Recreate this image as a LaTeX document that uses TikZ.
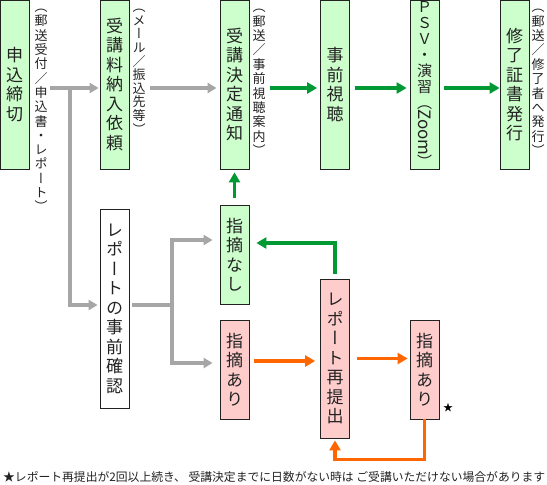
\documentclass[tikz,border=0pt]{standalone}
\usepackage{fontspec}
\usetikzlibrary{arrows.meta}
\newfontfamily\jp{Noto Sans CJK JP}
\newfontfamily\jpv[RawFeature=+vert]{Noto Sans CJK JP}
\definecolor{boxGreen}{HTML}{CCFFCC}
\definecolor{boxPink}{HTML}{FFCCCC}
\definecolor{lineGray}{HTML}{A6A6A6}
\definecolor{lineGreen}{HTML}{009933}
\definecolor{lineOrange}{HTML}{FF6600}
\definecolor{inkDark}{HTML}{222222}
\newcommand{\tslash}{{\jp ／}}

\begin{document}
\begin{tikzpicture}[x=1pt, y=-1pt,
    stepbox/.style={draw=inkDark, line width=0.8pt, inner sep=0pt, minimum width=29pt,
      align=center, text=inkDark, font=\jpv\fontsize{17}{19.5}\selectfont},
    okbox/.style={stepbox, fill=boxGreen},
    ngbox/.style={stepbox, fill=boxPink},
    note/.style={anchor=north, inner sep=0pt, align=center, text=inkDark,
      font=\jpv\fontsize{13}{#1}\selectfont},
    note/.default=14.3,
    grayline/.style={draw=lineGray, line width=3.5pt},
    grayarr/.style={grayline, -{Triangle[length=9pt,width=10pt]}},
    greenarr/.style={draw=lineGreen, line width=3.5pt, -{Triangle[length=10pt,width=11pt]}},
    orangearr/.style={draw=lineOrange, line width=3.5pt, -{Triangle[length=10pt,width=11pt]}}]
  \useasboundingbox (0,0) rectangle (547,485);
  % upper row
  \node[okbox, minimum height=169pt] (deadline) at (14.5,84.5) {申\\込\\締\\切};
  \node[note] (deadlineNote) at (41,9) {（\\郵\\送\\受\\付\\\tslash\\申\\込\\書\\・\\レ\\ポ\\ー\\ト\\）};
  \node[okbox, minimum height=169pt] (feeReq) at (114.5,84.5) {受\\講\\料\\納\\入\\依\\頼};
  \node[note=13.6] (feeNote) at (139,9) {（\\メ\\ー\\ル\\\tslash\\振\\込\\先\\等\\）};
  \node[okbox, minimum height=169pt] (decide) at (234.5,84.5) {受\\講\\決\\定\\通\\知};
  \node[note=14.4] (decideNote) at (259,9) {（\\郵\\送\\\tslash\\事\\前\\視\\聴\\案\\内\\）};
  \node[okbox, minimum height=169pt] (preview) at (335,84.5) {事\\前\\視\\聴};
  \node[okbox, minimum height=169pt,
        font={\jpv\fontsize{15}{16}\selectfont\lineskip=0pt\lineskiplimit=0pt}] (psv) at (424.5,84.5)
    {Ｐ\\Ｓ\\Ｖ\\・\\演\\習\\（\\\rotatebox[origin=c]{-90}{\fontsize{17}{19}\selectfont Zoom}\\）};
  \node[okbox, minimum height=169pt] (cert) at (514.5,84.5) {修\\了\\証\\書\\発\\行};
  \node[note=14.4] (certNote) at (538,9) {（\\郵\\送\\\tslash\\修\\了\\者\\へ\\発\\行\\）};
  % report check
  \node[stepbox, fill=white, minimum height=199pt] (precheck) at (114.5,308.5) {レ\\ポ\\ー\\ト\\の\\事\\前\\確\\認};
  \node[okbox, minimum height=99pt] (okA) at (234.5,254.5) {指\\摘\\な\\し};
  \node[ngbox, minimum height=99pt] (ngA) at (234.5,369.5) {指\\摘\\あ\\り};
  \node[ngbox, minimum height=159pt] (resub) at (335,358.5) {レ\\ポ\\ー\\ト\\再\\提\\出};
  \node[ngbox, minimum height=99pt] (ngB) at (424.5,369.5) {指\\摘\\あ\\り};
  \node[inner sep=0pt, font=\jp\fontsize{10}{12}\selectfont] (star) at (448,408) {★};
  \node[anchor=west, inner sep=0pt, text=inkDark, font=\jp\fontsize{11.8}{13}\selectfont] (remark) at (3,477)
    {★レポート再提出が2回以上続き、 受講決定までに日数がない時は ご受講いただけない場合があります};
  \coordinate (row) at (0,88);
  \coordinate (split) at (70,88);
  \coordinate (fork) at (172,305);
  \coordinate (ngAout) at ([yshift=8.5pt]ngA.east);
  % connectors
  \draw[grayarr, shorten <=2pt, shorten >=1pt] (deadlineNote.east |- row) -- (feeReq.west |- row);
  \draw[grayarr, shorten >=2pt] (split) |- ([yshift=3.5pt]precheck.west);
  \draw[grayarr, shorten <=4pt, shorten >=3pt] (feeNote.east |- row) -- (decide.west |- row);
  \draw[grayline, shorten <=3pt] ([yshift=3.5pt]precheck.east) -- (fork);
  \draw[grayarr, shorten >=7pt] (fork) |- ([yshift=14.5pt]okA.west);
  \draw[grayarr, shorten >=7pt] (fork) |- ([yshift=6.5pt]ngA.west);
  \draw[greenarr, shorten <=4pt, shorten >=3pt] (decideNote.east |- row) -- (preview.west |- row);
  \draw[greenarr, shorten <=5pt, shorten >=3pt] (preview.east |- row) -- (psv.west |- row);
  \draw[greenarr, shorten <=5pt] (psv.east |- row) -- (cert.west |- row);
  \draw[greenarr, shorten <=7pt, shorten >=3pt] (okA.north) -- (decide.south);
  \draw[greenarr, shorten <=5pt, shorten >=7pt] (resub.north) |- ([yshift=11.5pt]okA.east);
  \draw[orangearr, shorten <=5pt, shorten >=5pt] (ngAout) -- (resub.west |- ngAout);
  \draw[orangearr, shorten <=7pt, shorten >=2pt] (resub.east) -- (ngB.west |- resub.east);
  \draw[orangearr, shorten >=2pt] (ngB.south) -- ++(0,40) -| (resub.south);
\end{tikzpicture}
\end{document}
